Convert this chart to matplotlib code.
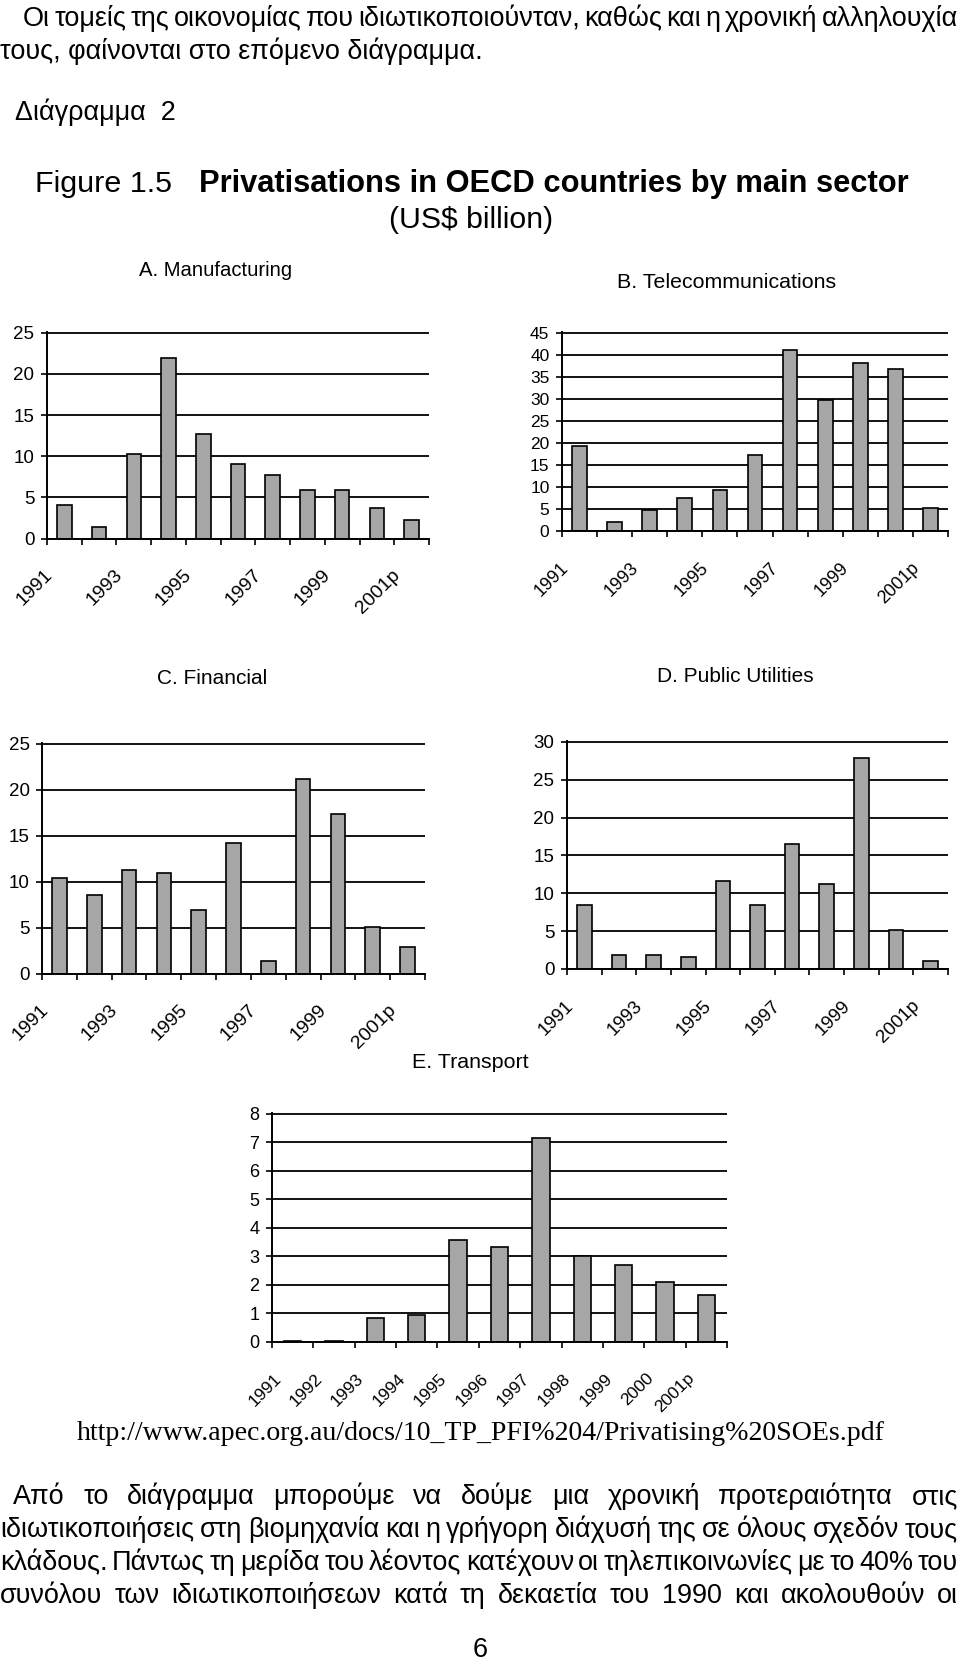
import matplotlib
matplotlib.use("Agg")
import matplotlib.pyplot as plt
import numpy as np
from matplotlib.transforms import ScaledTranslation

W, H, DPI = 960, 1662, 100

YEARS = ["1991", "1992", "1993", "1994", "1995", "1996",
         "1997", "1998", "1999", "2000", "2001p"]

# US$ billion
MANUFACTURING = [4.1, 1.4, 10.3, 22.0, 12.7, 9.1, 7.7, 5.9, 5.9, 3.7, 2.2]
TELECOMS      = [19.3, 2.0, 4.7, 7.6, 9.3, 17.3, 41.1, 29.8, 38.1, 36.8, 5.2]
FINANCIAL     = [10.4, 8.5, 11.3, 10.9, 6.9, 14.2, 1.4, 21.2, 17.4, 5.1, 2.9]
UTILITIES     = [8.5, 1.8, 1.8, 1.6, 11.6, 8.4, 16.5, 11.2, 27.9, 5.1, 1.0]
TRANSPORT     = [0.05, 0.05, 0.83, 0.94, 3.58, 3.34, 7.17, 3.0, 2.7, 2.12, 1.66]

INTRO_LINES = [
    "Οι τομείς της οικονομίας που ιδιωτικοποιούνταν, καθώς και η χρονική αλληλουχία",
    "τους, φαίνονται στο επόμενο διάγραμμα.",
]
CAPTION = "Διάγραμμα  2"
FIG_NUMBER = "Figure 1.5"
FIG_TITLE = "Privatisations in OECD countries by main sector"
FIG_UNITS = "(US$ billion)"
SOURCE_URL = "http://www.apec.org.au/docs/10_TP_PFI%204/Privatising%20SOEs.pdf"
BODY_LINES = [
    "Από το διάγραμμα μπορούμε να δούμε μια χρονική προτεραιότητα στις",
    "ιδιωτικοποιήσεις στη βιομηχανία και η γρήγορη διάχυσή της σε όλους σχεδόν τους",
    "κλάδους. Πάντως τη μερίδα του λέοντος κατέχουν οι τηλεπικοινωνίες με το 40% του",
    "συνόλου των ιδιωτικοποιήσεων κατά τη δεκαετία του 1990 και ακολουθούν οι",
]
PAGE_NO = "6"

SANS = "Liberation Sans"
BODY = "Liberation Sans"
SERIF = "Liberation Serif"

# layout in page pixels: box = (left, top, right, bottom) of the plot area
PANELS = [
    {"title": "A. Manufacturing", "values": MANUFACTURING, "ymax": 25, "ystep": 5,
     "box": (47, 332, 429, 538.5), "title_box": (139, 292, 271),
     "every": 2, "ysize": 13.5, "xsize": 14},
    {"title": "B. Telecommunications", "values": TELECOMS, "ymax": 45, "ystep": 5,
     "box": (562, 332, 948, 531), "title_box": (617, 836, 282),
     "every": 2, "ysize": 12.5, "xsize": 13},
    {"title": "C. Financial", "values": FINANCIAL, "ymax": 25, "ystep": 5,
     "box": (42, 743, 425, 973.5), "title_box": (157, 267, 678),
     "every": 2, "ysize": 13.5, "xsize": 14},
    {"title": "D. Public Utilities", "values": UTILITIES, "ymax": 30, "ystep": 5,
     "box": (567, 741, 948, 969), "title_box": (657, 814, 677),
     "every": 2, "ysize": 13.5, "xsize": 13.5},
    {"title": "E. Transport", "values": TRANSPORT, "ymax": 8, "ystep": 1,
     "box": (272, 1113, 727, 1342), "title_box": (412, 528, 1063),
     "every": 1, "ysize": 13, "xsize": 12.5},
]

plt.rcParams["font.family"] = [SANS, "DejaVu Sans"]

fig = plt.figure(figsize=(W / DPI, H / DPI), dpi=DPI)
renderer = fig.canvas.get_renderer()


def fx(x):
    return x / W


def fy(y):
    return 1 - y / H


def width_of(t):
    return t.get_window_extent(renderer).width


def fit_text(s, x0, x1, y, family=SANS, weight="normal"):
    # size the text so it spans x0..x1 like in the scan
    t = fig.text(fx(x0), fy(y), s, family=family, weight=weight,
                 fontsize=20, va="center", ha="left")
    t.set_fontsize(20 * (x1 - x0) / width_of(t))
    return t


def justify(s, x0, x1, y_base, size):
    words = s.split()
    texts = [fig.text(0, fy(y_base), w, family=BODY, fontsize=size,
                      va="baseline") for w in words]
    widths = [width_of(t) for t in texts]
    gap = (x1 - x0 - sum(widths)) / max(len(words) - 1, 1)
    x = x0
    for t, w in zip(texts, widths):
        t.set_x(fx(x))
        x += w + gap


def draw_panel(p):
    l, t, r, b = p["box"]
    ax = fig.add_axes([fx(l), fy(b), (r - l) / W, (b - t) / H])
    values = p["values"]
    n = len(values)
    x = np.arange(n)
    ax.bar(x, values, width=0.42, color="#a6a6a6", edgecolor="black", linewidth=1.2)

    ax.set_xlim(-0.5, n - 0.5)
    ax.set_ylim(0, p["ymax"] * 1.004)
    ax.set_yticks(np.arange(0, p["ymax"] + 1, p["ystep"]))
    ax.yaxis.grid(True, color="black", linewidth=1.3)
    ax.set_axisbelow(True)

    ax.set_xticks(np.arange(-0.5, n + 0.5, 1))
    ax.set_xticklabels([])
    ax.tick_params(axis="x", length=4, width=1.2, color="black")
    ax.tick_params(axis="y", length=4, width=1.2, labelsize=p["ysize"], pad=5)
    for side in ("top", "right"):
        ax.spines[side].set_visible(False)
    for side in ("left", "bottom"):
        ax.spines[side].set_linewidth(1.4)

    shift = ScaledTranslation(-14 / DPI, -34 / DPI, fig.dpi_scale_trans)
    for i in range(0, n, p["every"]):
        ax.text(i, 0, YEARS[i], rotation=45, ha="right", va="center",
                rotation_mode="anchor", fontsize=p["xsize"],
                transform=ax.transData + shift)

    x0, x1, ty = p["title_box"]
    fit_text(p["title"], x0, x1, ty)


def main() -> None:
    # body text size taken from the natural width of the short line
    probe = fig.text(0, 0, INTRO_LINES[1], family=BODY, fontsize=20)
    body_size = 20 * 482 / width_of(probe)
    probe.remove()

    justify(INTRO_LINES[0], 23, 958, 26, body_size)
    fig.text(fx(0), fy(59), INTRO_LINES[1], family=BODY, fontsize=body_size, va="baseline")
    fig.text(fx(15), fy(120), CAPTION, family=BODY, fontsize=body_size, va="baseline")

    fit_text(FIG_NUMBER, 35, 172, 184)
    fit_text(FIG_TITLE, 199, 909, 184, weight="bold")
    fit_text(FIG_UNITS, 389, 554, 220)

    for p in PANELS:
        draw_panel(p)

    fit_text(SOURCE_URL, 77, 883, 1434, family=SERIF)

    justify(BODY_LINES[0], 13, 958, 1504, body_size)
    for k, line in enumerate(BODY_LINES[1:]):
        justify(line, 0, 958, 1537 + 33 * k, body_size)

    fig.text(fx(480), fy(1650), PAGE_NO, family=BODY, fontsize=body_size,
             ha="center", va="center")

    fig.savefig("out.png", dpi=DPI, facecolor="white")
    plt.close(fig)


if __name__ == "__main__":
    main()
